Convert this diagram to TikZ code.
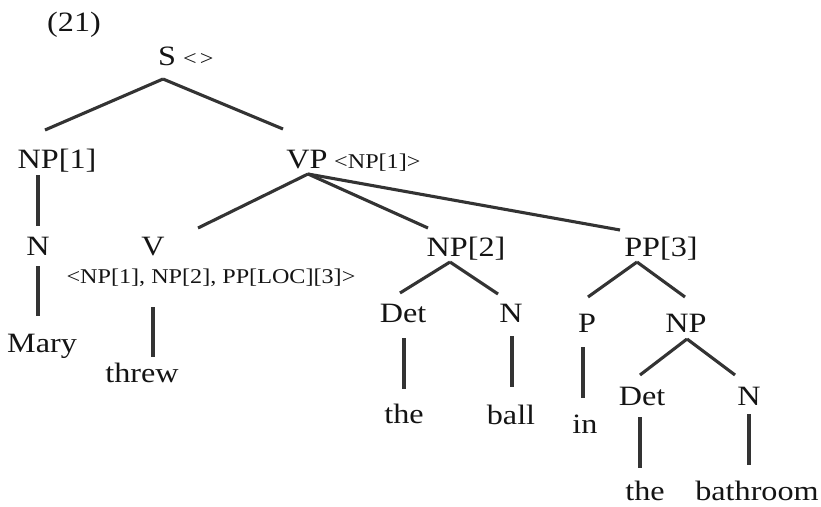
\documentclass[tikz,border=0pt]{standalone}
\usepackage{fontspec}
\setmainfont{Liberation Serif}[FakeStretch=1.15]
\begin{document}
\begin{tikzpicture}[x=1pt,y=-1pt,
  cat/.style={font=\fontsize{28}{28}\selectfont, inner sep=0pt, anchor=base, text=black!92},
  ann/.style={font=\fontsize{21}{21}\selectfont, inner sep=0pt, anchor=base west, text=black!92},
  br/.style={line width=3.1pt, draw=black!80}]
\useasboundingbox (0,0) rectangle (821,506);
% labels
\node[cat] (ex) at (74,31) {(21)};
\node[cat] (S) at (167,65) {S};
\node[ann] (Sa) at (183,65) {<\hspace{3pt}>};
\node[cat] (NP1) at (57,168) {NP[1]};
\node[cat] (VP) at (307,168) {VP};
\node[ann] (VPa) at (334,168) {<NP[1]>};
\node[cat] (N1) at (38,255) {N};
\node[cat] (Mary) at (42,352) {Mary};
\node[cat] (V) at (153,255) {V};
\node[ann, anchor=base] (Va) at (211,283) {<NP[1], NP[2], PP[LOC][3]>};
\node[cat] (threw) at (142,382) {threw};
\node[cat] (NP2) at (466,256) {NP[2]};
\node[cat] (Det1) at (403,322) {Det};
\node[cat] (N2) at (511,322) {N};
\node[cat] (the1) at (404,423) {the};
\node[cat] (ball) at (511,424) {ball};
\node[cat] (PP3) at (661,256) {PP[3]};
\node[cat] (P) at (587,332) {P};
\node[cat] (NP3) at (686,332) {NP};
\node[cat] (in) at (585,433) {in};
\node[cat] (Det2) at (642,405) {Det};
\node[cat] (N3) at (749,405) {N};
\node[cat] (the2) at (645,500) {the};
\node[cat] (bathroom) at (757,500) {bathroom};
% branches
\draw[br] ([shift={(-4,14)}]S.base) -- ([shift={(-12,-38)}]NP1.base);
\draw[br] ([shift={(-4,14)}]S.base) -- ([shift={(-24,-39)}]VP.base);
\draw[br] ([shift={(-19,7)}]NP1.base) -- ([shift={(0,-29)}]N1.base);
\draw[br] ([shift={(0,11)}]N1.base) -- ([shift={(-4,-36)}]Mary.base);
\draw[br] ([shift={(1,6)}]VP.base) -- ([shift={(45,-27)}]V.base);
\draw[br] ([shift={(-58,24)}]Va.base) -- ([shift={(11,-25)}]threw.base);
\draw[br] ([shift={(1,6)}]VP.base) -- ([shift={(-38,-28)}]NP2.base);
\draw[br] ([shift={(1,6)}]VP.base) -- ([shift={(-41,-26)}]PP3.base);
\draw[br] ([shift={(-16,6)}]NP2.base) -- ([shift={(-3,-29)}]Det1.base);
\draw[br] ([shift={(-16,6)}]NP2.base) -- ([shift={(-13,-28)}]N2.base);
\draw[br] ([shift={(1,16)}]Det1.base) -- ([shift={(0,-34)}]the1.base);
\draw[br] ([shift={(1,14)}]N2.base) -- ([shift={(1,-37)}]ball.base);
\draw[br] ([shift={(-24,6)}]PP3.base) -- ([shift={(1,-35)}]P.base);
\draw[br] ([shift={(-24,6)}]PP3.base) -- ([shift={(-1,-35)}]NP3.base);
\draw[br] ([shift={(-4,15)}]P.base) -- ([shift={(-2,-35)}]in.base);
\draw[br] ([shift={(1,7)}]NP3.base) -- ([shift={(-2,-30)}]Det2.base);
\draw[br] ([shift={(1,7)}]NP3.base) -- ([shift={(-14,-30)}]N3.base);
\draw[br] ([shift={(-2,12)}]Det2.base) -- ([shift={(-5,-32)}]the2.base);
\draw[br] ([shift={(0,9)}]N3.base) -- ([shift={(-8,-35)}]bathroom.base);
\end{tikzpicture}
\end{document}
